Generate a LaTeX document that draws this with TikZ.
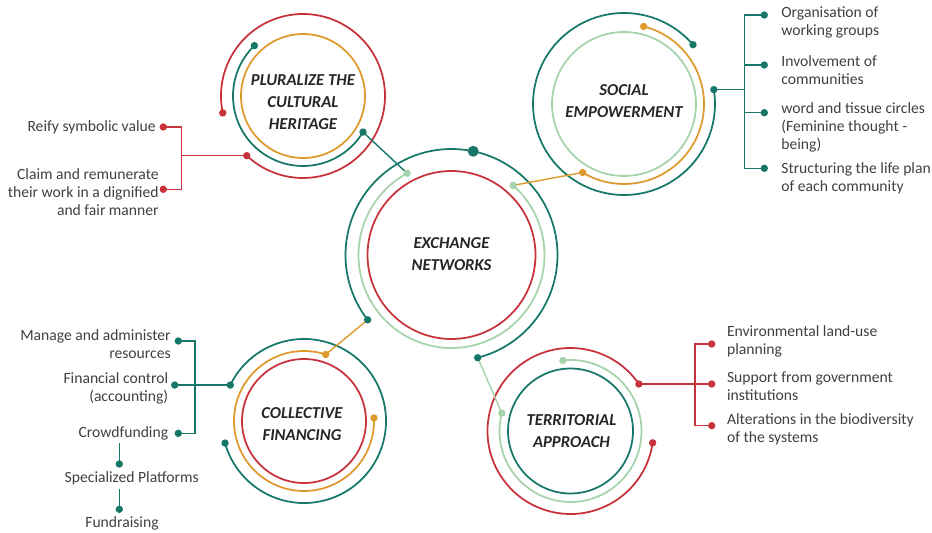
\documentclass[tikz,border=0pt]{standalone}
\usepackage{fontspec}
\setmainfont{Carlito}
\usetikzlibrary{calc}

\definecolor{tealC}{HTML}{17786A}
\definecolor{redC}{HTML}{C8323A}
\definecolor{orangeC}{HTML}{DE9A2C}
\definecolor{mintC}{HTML}{A6D3AC}
\definecolor{inkD}{HTML}{262626}
\definecolor{inkL}{HTML}{404040}

\newcommand{\ttlfont}{\fontsize{9.5}{12.5}\selectfont\bfseries\itshape}
\newcommand{\lblfont}{\fontsize{8.9}{10.3}\selectfont}

\tikzset{
  ring/.style = {circle, draw, line width=1pt, inner sep=0pt, minimum size=#1},
  ttl/.style  = {align=center, font=\ttlfont, text=inkD, inner sep=0pt},
  arct/.style = {draw=tealC, line width=1pt},
  arcr/.style = {draw=redC, line width=1pt},
  arco/.style = {draw=orangeC, line width=1pt},
  arcm/.style = {draw=mintC, line width=1pt},
  link/.style = {line width=0.8pt},
  brk/.style  = {line width=0.9pt},
  lbl/.style  = {font=\lblfont, text=inkL, inner sep=0pt}
}

\begin{document}
\begin{tikzpicture}[x=0.02cm, y=0.02cm]
  \useasboundingbox (0,0) rectangle (932,532);

  % ── Hubs ──────────────────────────────────────────────────────────────────
  \node[ring=3.36cm, draw=redC]    (exch) at (451.5,277) {};
  \node[ring=2.48cm, draw=orangeC] (plur) at (303,436)   {};
  \node[ring=2.88cm, draw=mintC]   (soc)  at (624,428)   {};
  \node[ring=2.48cm, draw=redC]    (fin)  at (304,111)   {};
  \node[ring=2.50cm, draw=tealC]   (terr) at (570.5,101) {};

  \node[ttl] (exTtl) at ($(exch)+(0,1)$)  {EXCHANGE\\NETWORKS};
  \node[ttl] (plTtl) at ($(plur)+(0,-6)$) {PLURALIZE THE\\CULTURAL\\HERITAGE};
  \node[ttl] (soTtl) at ($(soc)+(0,3)$)   {SOCIAL\\EMPOWERMENT};
  \node[ttl] (fiTtl) at ($(fin)+(-2,-3)$) {COLLECTIVE\\FINANCING};
  \node[ttl] (teTtl) at ($(terr)+(1,0)$)  {TERRITORIAL\\APPROACH};

  % ── Arc ends ──────────────────────────────────────────────────────────────
  \coordinate (exLgA) at ($(exch)+(118.5:93)$);
  \coordinate (exLgB) at ($(exch)+(48.5:93)$);
  \coordinate (exTlA) at ($(exch)+(217.7:106)$);
  \coordinate (exTlB) at ($(exch)+(-75.7:106)$);
  \coordinate (exTop) at ($(exch)+(78.2:106)$);

  \coordinate (plTlA) at ($(plur)+(134:70)$);
  \coordinate (plTlB) at ($(plur)+(-31:70)$);
  \coordinate (plRdA) at ($(plur)+(191.9:82)$);
  \coordinate (plRdB) at ($(plur)+(226.7:82)$);

  \coordinate (soTlA) at ($(soc)+(40.7:91)$);
  \coordinate (soTlB) at ($(soc)+(9.1:91)$);
  \coordinate (soOrA) at ($(soc)+(75.8:80)$);
  \coordinate (soOrB) at ($(soc)+(238.9:80)$);

  \coordinate (fiOrA) at ($(fin)+(71.9:70)$);
  \coordinate (fiOrB) at ($(fin)+(2.5:70)$);
  \coordinate (fiTlA) at ($(fin)+(154:82)$);
  \coordinate (fiTlB) at ($(fin)+(195.6:82)$);

  \coordinate (teLgA) at ($(terr)+(96.2:71)$);
  \coordinate (teLgB) at ($(terr)+(165.4:71)$);
  \coordinate (teRdA) at ($(terr)+(34.5:83)$);
  \coordinate (teRdB) at ($(terr)+(-8.2:83)$);

  % ── Arcs ──────────────────────────────────────────────────────────────────
  \draw[arcm] (exLgA) arc[start angle=118.5, end angle=408.5, radius=93];
  \draw[arct] (exTlA) arc[start angle=217.7, end angle=-75.7, radius=106];

  \draw[arct] (plTlA) arc[start angle=134, end angle=329, radius=70];
  \draw[arcr] (plRdA) arc[start angle=191.9, end angle=-133.3, radius=82];

  \draw[arct] (soTlA) arc[start angle=40.7, end angle=369.1, radius=91];
  \draw[arco] (soOrA) arc[start angle=75.8, end angle=-121.1, radius=80];

  \draw[arco] (fiOrA) arc[start angle=71.9, end angle=362.5, radius=70];
  \draw[arct] (fiTlA) arc[start angle=154, end angle=-164.4, radius=82];

  \draw[arcm] (teLgA) arc[start angle=96.2, end angle=-194.6, radius=71];
  \draw[arcr] (teRdA) arc[start angle=34.5, end angle=351.8, radius=83];

  % ── Links to the centre ───────────────────────────────────────────────────
  \draw[link, tealC]   (plTlB) -- (exLgA);
  \draw[link, orangeC] (soOrB) -- (exLgB);
  \draw[link, orangeC] (fiOrA) -- (exTlA);
  \draw[link, mintC]   (teLgB) -- (exTlB);

  % ── Cultural heritage items ───────────────────────────────────────────────
  \coordinate (plBar) at (181.7,0);
  \coordinate (plItA) at (163.3,405);
  \coordinate (plItB) at (163.3,342.7);
  \draw[brk, redC] (plRdB) -- (plRdB -| plBar);
  \draw[brk, redC] (plItA) -- (plItA -| plBar) -- (plItB -| plBar) -- (plItB);
  \node[lbl, anchor=east, align=right] (plTxA) at (156,404.3) {Reify symbolic value};
  \node[lbl, anchor=east, align=right] (plTxB) at (159,340)
       {Claim and remunerate\\their work in a dignified\\and fair manner};

  % ── Social empowerment items ──────────────────────────────────────────────
  \coordinate (soBar) at (744.3,0);
  \coordinate (soItA) at (764.3,517);
  \coordinate (soItB) at (764.3,467);
  \coordinate (soItC) at (764.3,419.3);
  \coordinate (soItD) at (764.3,363.7);
  \draw[brk, tealC] (soTlB) -- (soTlB -| soBar);
  \draw[brk, tealC] (soItA) -- (soItA -| soBar) -- (soItD -| soBar) -- (soItD);
  \draw[brk, tealC] (soItB -| soBar) -- (soItB);
  \draw[brk, tealC] (soItC -| soBar) -- (soItC);
  \node[lbl, anchor=west, align=left] (soTxA) at (781,509.3) {Organisation of\\working groups};
  \node[lbl, anchor=west, align=left] (soTxB) at (781,461.5) {Involvement of\\communities};
  \node[lbl, anchor=west, align=left] (soTxC) at (781,404.8)
       {word and tissue circles\\(Feminine thought -\\being)};
  \node[lbl, anchor=west, align=left] (soTxD) at (781,353.8)
       {Structuring the life plan\\of each community};

  % ── Collective financing items ────────────────────────────────────────────
  \coordinate (fiBar)  at (195,0);
  \coordinate (fiItA)  at (178.3,191);
  \coordinate (fiItB)  at ($(fiTlA)+(-55.6,0)$);
  \coordinate (fiItC)  at (178.3,98.7);
  \coordinate (fiSubA) at (119.3,68);
  \coordinate (fiSubB) at (119.3,22.7);
  \draw[brk, tealC] (fiTlA) -- (fiItB);
  \draw[brk, tealC] (fiItA) -- (fiItA -| fiBar) -- (fiItC -| fiBar) -- (fiItC);
  \node[lbl, anchor=east, align=right] (fiTxA) at (171,188)     {Manage and administer\\resources};
  \node[lbl, anchor=east, align=right] (fiTxB) at (168.5,143.5) {Financial control\\(accounting)};
  \node[lbl, anchor=east]              (fiTxC) at (168.5,99)    {Crowdfunding};
  \node[lbl] (fiTxD) at (131.7,53.3) {Specialized Platforms};
  \node[lbl] (fiTxE) at (122,8.7)    {Fundraising};
  \draw[brk, tealC] ($(fiTxC.south -| fiSubA)+(0,-3)$) -- (fiSubA);
  \draw[brk, tealC] ($(fiTxD.south -| fiSubB)+(0,-3)$) -- (fiSubB);

  % ── Territorial approach items ────────────────────────────────────────────
  \coordinate (teBar) at (695,0);
  \coordinate (teItA) at (711.7,188);
  \coordinate (teItB) at (711.7,0);
  \coordinate (teItC) at (711.7,106.3);
  \draw[brk, redC] (teRdA) -- (teRdA -| teItB);
  \draw[brk, redC] (teItA) -- (teItA -| teBar) -- (teItC -| teBar) -- (teItC);
  \node[lbl, anchor=west, align=left] (teTxA) at (726.7,190.3) {Environmental land-use\\planning};
  \node[lbl, anchor=west, align=left] (teTxB) at (726.7,146)   {Support from government\\institutions};
  \node[lbl, anchor=west, align=left] (teTxC) at (726.7,103)   {Alterations in the biodiversity\\of the systems};

  % ── Dots ──────────────────────────────────────────────────────────────────
  \foreach \p/\c in {exLgA/mintC, exLgB/mintC, exTlA/tealC, exTlB/tealC,
                     plTlA/tealC, plTlB/tealC, plRdA/redC, plRdB/redC,
                     soTlA/tealC, soTlB/tealC, soOrA/orangeC, soOrB/orangeC,
                     fiOrA/orangeC, fiOrB/orangeC, fiTlA/tealC, fiTlB/tealC,
                     teLgA/mintC, teLgB/mintC, teRdA/redC, teRdB/redC,
                     plItA/redC, plItB/redC,
                     soItA/tealC, soItB/tealC, soItC/tealC, soItD/tealC,
                     fiItA/tealC, fiItB/tealC, fiItC/tealC, fiSubA/tealC, fiSubB/tealC,
                     teItA/redC, teItC/redC}
    \fill[\c] (\p) circle[radius=3.7];
  \fill[redC]  (teRdA -| teItB) circle[radius=3.7];
  \fill[tealC] (exTop) circle[radius=5.5];

\end{tikzpicture}
\end{document}
